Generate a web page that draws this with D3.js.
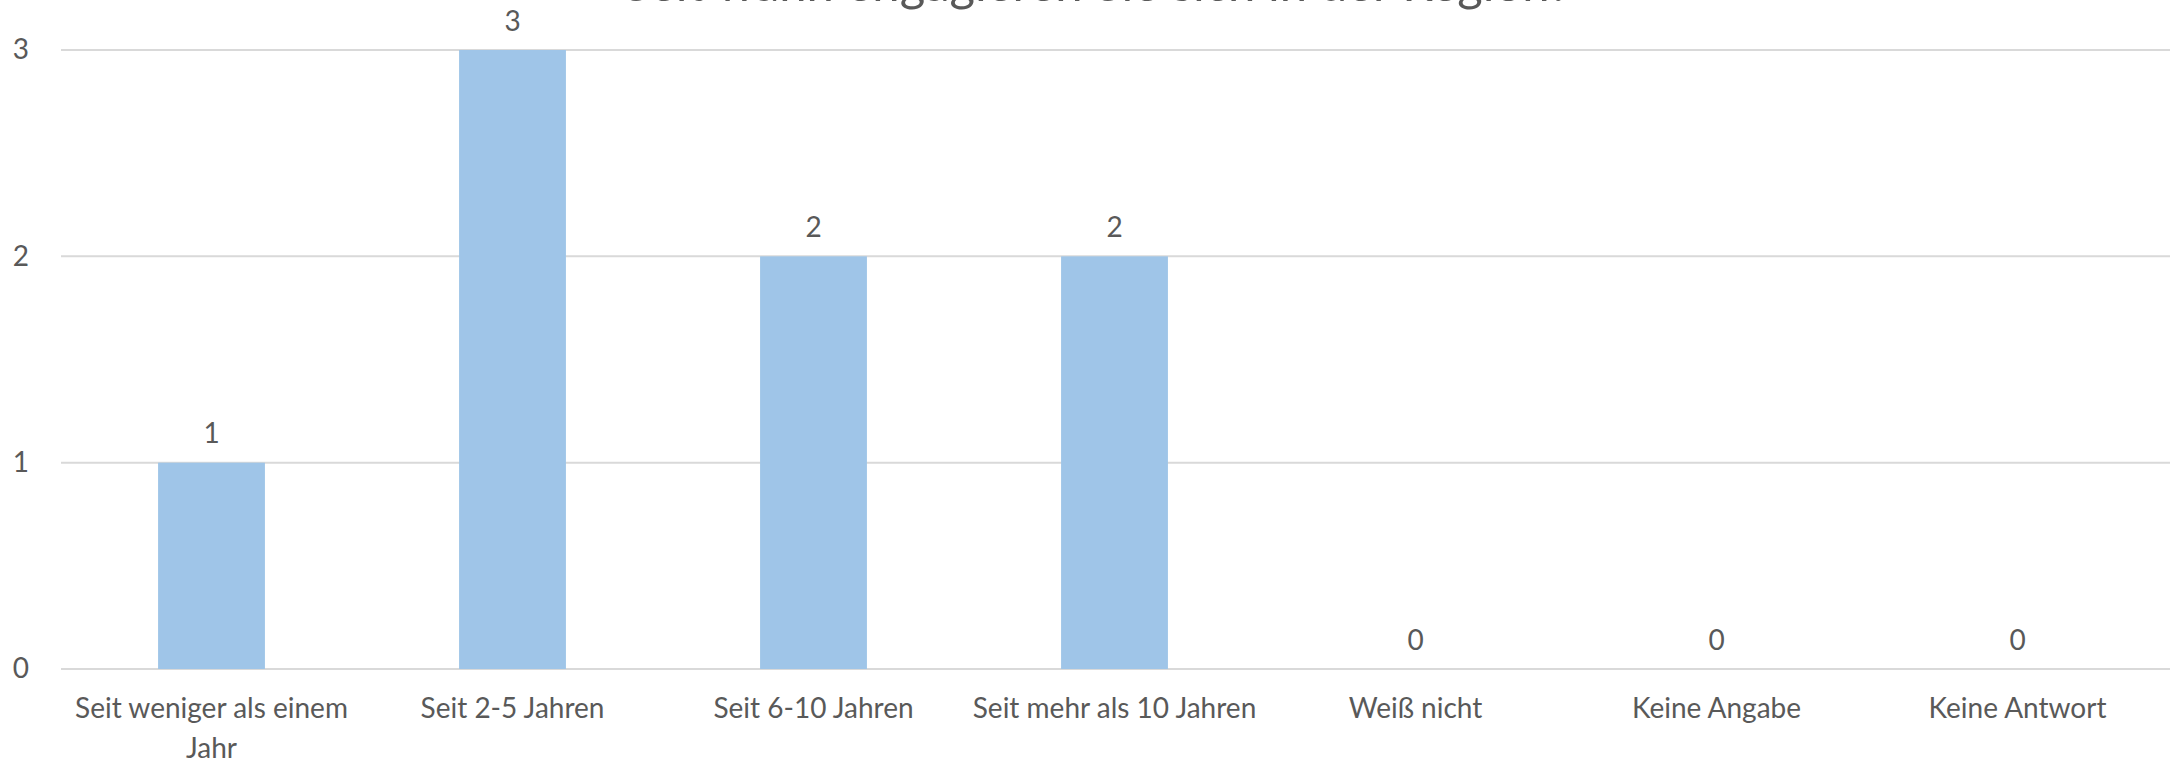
<!DOCTYPE html>
<html>
<head>
<meta charset="utf-8">
<script src="https://cdn.jsdelivr.net/npm/d3@7"></script>
<style>
  html, body { margin: 0; padding: 0; background: #ffffff; overflow: hidden; }
  svg { display: block; }
  text { font-family: Lato, "Open Sans", sans-serif; fill: #595959; }
</style>
</head>
<body>
<svg id="chart" width="2173" height="764"></svg>
<script>
// Survey answers: how long respondents have been involved
const title = "Seit wann engagieren Sie sich in der Region?";
const categories = [
  ["Seit weniger als einem", "Jahr"],
  ["Seit 2-5 Jahren"],
  ["Seit 6-10 Jahren"],
  ["Seit mehr als 10 Jahren"],
  ["Weiß nicht"],
  ["Keine Angabe"],
  ["Keine Antwort"]
];
const values = [1, 3, 2, 2, 0, 0, 0];
const yTicks = [0, 1, 2, 3];

const W = 2173, H = 764;
const margin = { left: 61, right: 5, top: 50, bottom: 95 };

const svg = d3.select("#chart");

const keys = categories.map((c, i) => i);
const x = d3.scaleBand()
  .domain(keys)
  .range([margin.left, W - margin.right])
  .paddingInner(0.645)
  .paddingOuter(0.3225);

const y = d3.scaleLinear()
  .domain([0, 3])
  .range([H - margin.bottom, margin.top]);

// horizontal gridlines
svg.append("g")
  .selectAll("line")
  .data(yTicks)
  .join("line")
  .attr("x1", margin.left)
  .attr("x2", W - 3)
  .attr("y1", d => y(d))
  .attr("y2", d => y(d))
  .attr("stroke", "#d9d9d9")
  .attr("stroke-width", 2);

// value axis labels
const yAxis = d3.axisLeft(y).tickValues(yTicks).tickFormat(d3.format("d")).tickSize(0).tickPadding(0);
const yg = svg.append("g")
  .attr("transform", `translate(29,0)`)
  .call(yAxis);
yg.select(".domain").remove();
yg.selectAll("text")
  .attr("font-size", 28)
  .attr("fill", "#595959")
  .style("font-family", "Lato, 'Open Sans', sans-serif");

// bars
svg.append("g")
  .selectAll("rect")
  .data(values)
  .join("rect")
  .attr("x", (d, i) => x(i))
  .attr("width", x.bandwidth())
  .attr("y", d => y(d))
  .attr("height", d => y(0) - y(d))
  .attr("fill", "#9fc5e8");

// data labels
svg.append("g")
  .selectAll("text")
  .data(values)
  .join("text")
  .attr("x", (d, i) => x(i) + x.bandwidth() / 2)
  .attr("y", d => y(d) - 29)
  .attr("dy", "0.35em")
  .attr("text-anchor", "middle")
  .attr("font-size", 28)
  .text(d => d);

// category labels
const xAxis = d3.axisBottom(x).tickSize(0).tickFormat(() => "");
const xg = svg.append("g")
  .attr("transform", `translate(0,${y(0)})`)
  .call(xAxis);
xg.select(".domain").remove();
xg.selectAll(".tick").each(function (i) {
  const t = d3.select(this).append("text")
    .attr("text-anchor", "middle")
    .attr("font-size", 28)
    .attr("fill", "#595959")
    .attr("y", 39);
  categories[i].forEach((line, k) => {
    t.append("tspan").attr("x", 0).attr("dy", k === 0 ? "0.35em" : 40).text(line);
  });
});

// title (sits partly above the visible area)
svg.append("text")
  .attr("x", 1097)
  .attr("y", 1)
  .attr("text-anchor", "middle")
  .attr("font-size", 49)
  .attr("fill", "#595959")
  .text(title);
</script>
</body>
</html>
